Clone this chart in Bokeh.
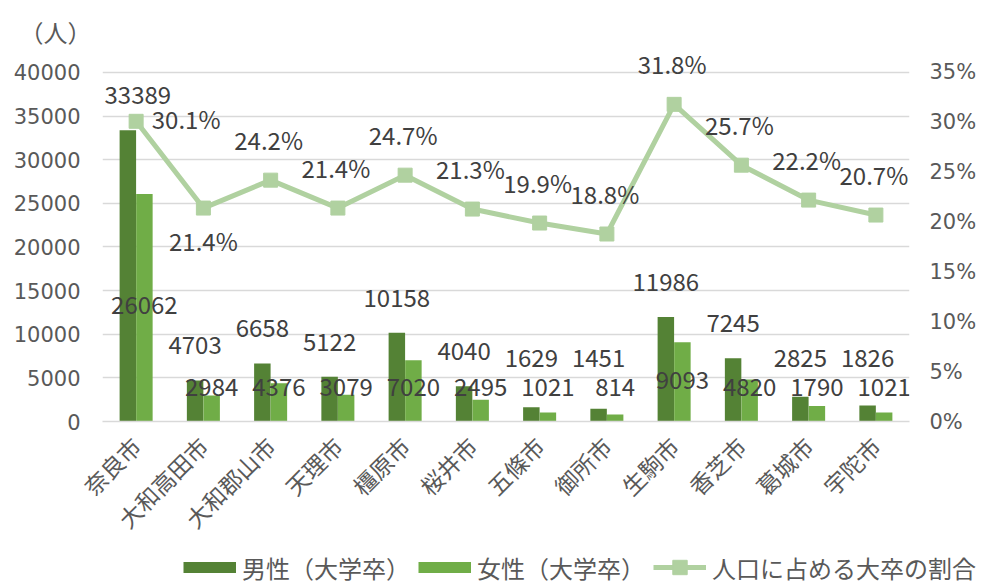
import math
from bokeh.plotting import figure
from bokeh.layouts import column, row
from bokeh.models import (Range1d, LinearAxis, FixedTicker, FactorRange,
                          ColumnDataSource, LabelSet, Legend, LegendItem, Title,
                          CustomJSTickFormatter)
from bokeh.transform import dodge
from bokeh.core.properties import value
from bokeh.embed import file_html
from bokeh.resources import INLINE

# ---- data ----
cities = ["奈良市", "大和高田市", "大和郡山市", "天理市", "橿原市", "桜井市",
          "五條市", "御所市", "生駒市", "香芝市", "葛城市", "宇陀市"]
male = [33389, 4703, 6658, 5122, 10158, 4040, 1629, 1451, 11986, 7245, 2825, 1826]
female = [26062, 2984, 4376, 3079, 7020, 2495, 1021, 814, 9093, 4820, 1790, 1021]
ratio = [30.1, 21.4, 24.2, 21.4, 24.7, 21.3, 19.9, 18.8, 31.8, 25.7, 22.2, 20.7]
left_ticks = [0, 5000, 10000, 15000, 20000, 25000, 30000, 35000, 40000]
right_ticks = [0, 5, 10, 15, 20, 25, 30, 35]
series_names = ["男性（大学卒）", "女性（大学卒）", "人口に占める大卒の割合"]

# ---- styles / layout ----
MALE_C = "#548235"
FEMALE_C = "#70AD47"
LINE_C = "#B0D1A0"
GRID_C = "#D9D9D9"
TICK_C = "#595959"
LABEL_C = "#404040"
JP = "Noto Sans CJK JP"
NUM = "DejaVu Sans"

W, LEG_H = 983, 36
H = 585 - LEG_H
FRAME_L, FRAME_R, FRAME_T, FRAME_B = 102, 909, 48, 422
AXIS_PX = 350  # pixels spanned by 0..40000 / 0..35%
head = (FRAME_B - FRAME_T) / AXIS_PX

# label placement (screen px)
male_floor = 3300
male_dx = [10] + [0] * 11
female_lift = [117, 35, 35, 35, 35, 35, 35, 35, 42, 35, 35, 35]
pct_dx = [50, 0] + [-2] * 10
pct_dy = [3, -32] + [41] * 10

src = ColumnDataSource(dict(
    city=cities, male=male, female=female, ratio=ratio,
    male_txt=[str(v) for v in male],
    female_txt=[str(v) for v in female],
    ratio_txt=[f"{v:.1f}%" for v in ratio],
    male_y=[max(v, male_floor) for v in male],
    male_dx=male_dx,
    zero=[0] * len(cities),
    female_lift=female_lift,
    pct_dx=pct_dx, pct_dy=pct_dy,
))

p = figure(width=W, height=H,
           x_range=FactorRange(factors=cities, range_padding=0),
           y_range=Range1d(0, left_ticks[-1] * head),
           output_backend="svg", toolbar_location=None,
           min_border_left=FRAME_L, min_border_right=W - FRAME_R,
           min_border_top=FRAME_T, min_border_bottom=H - FRAME_B)
p.extra_y_ranges = {"pct": Range1d(0, right_ticks[-1] * head)}
p.outline_line_color = None
p.background_fill_color = "white"
p.border_fill_color = "white"

p.vbar(x=dodge("city", -0.123, range=p.x_range), top="male", width=0.245,
       source=src, fill_color=MALE_C, line_color=None)
p.vbar(x=dodge("city", 0.123, range=p.x_range), top="female", width=0.245,
       source=src, fill_color=FEMALE_C, line_color=None)

p.line("city", "ratio", source=src, y_range_name="pct",
       line_color=LINE_C, line_width=5)
p.scatter("city", "ratio", source=src, y_range_name="pct", marker="square",
          size=14, fill_color=LINE_C, line_color=LINE_C)

# axes
lt = FixedTicker(ticks=left_ticks, minor_ticks=[])
p.yaxis.ticker = lt
p.ygrid.ticker = lt
p.ygrid.grid_line_color = GRID_C
p.ygrid.grid_line_width = 1.5
p.xgrid.visible = False

for ax in p.yaxis:
    ax.axis_line_color = None
    ax.major_tick_line_color = None
    ax.minor_tick_line_color = None
    ax.major_tick_out = 0
    ax.major_tick_in = 0
    ax.major_label_text_font = NUM
    ax.major_label_text_font_size = "21px"
    ax.major_label_text_color = TICK_C
    ax.major_label_standoff = 22

rax = LinearAxis(y_range_name="pct",
                 ticker=FixedTicker(ticks=right_ticks, minor_ticks=[]),
                 formatter=CustomJSTickFormatter(code="return tick + '%';"))
rax.axis_line_color = None
rax.major_tick_line_color = None
rax.minor_tick_line_color = None
rax.major_tick_out = 0
rax.major_tick_in = 0
rax.major_label_text_font = NUM
rax.major_label_text_font_size = "21px"
rax.major_label_text_color = TICK_C
rax.major_label_standoff = 20
p.add_layout(rax, "right")

xa = p.xaxis[0]
xa.axis_line_color = GRID_C
xa.axis_line_width = 1.5
xa.major_tick_line_color = None
xa.minor_tick_line_color = None
xa.major_tick_out = 0
xa.major_tick_in = 0
xa.major_label_orientation = math.pi / 4
xa.major_label_text_font = JP
xa.major_label_text_font_size = "23px"
xa.major_label_text_color = TICK_C
xa.major_label_standoff = 20

# data labels
common = dict(source=src, text_font=value(JP), text_font_size="24px",
              text_color=LABEL_C, text_align="center", text_baseline="middle")
p.add_layout(LabelSet(x=dodge("city", -0.123, range=p.x_range), y="male_y",
                      text="male_txt", x_offset="male_dx", y_offset=35, **common))
p.add_layout(LabelSet(x=dodge("city", 0.123, range=p.x_range), y="zero",
                      text="female_txt", y_offset="female_lift", **common))
p.add_layout(LabelSet(x="city", y="ratio", y_range_name="pct", text="ratio_txt",
                      x_offset="pct_dx", y_offset="pct_dy", **common))

# unit label
p.title = Title(text="（人）", align="left", offset=-83, standoff=0,
                text_font=JP, text_font_size="24px", text_color=TICK_C,
                text_font_style="normal")

# legend strip (separate small figure so nothing is clipped)
lf = figure(width=W, height=LEG_H, x_range=Range1d(0, 1), y_range=Range1d(0, 1),
            output_backend="svg", toolbar_location=None,
            x_axis_location=None, y_axis_location=None,
            min_border_left=0, min_border_right=0, min_border_top=0, min_border_bottom=0)
lf.outline_line_color = None
lf.xgrid.visible = False
lf.ygrid.visible = False
nan = [float("nan")]
m_leg = lf.line(x=nan, y=nan, line_color=MALE_C, line_width=11)
f_leg = lf.line(x=nan, y=nan, line_color=FEMALE_C, line_width=11)
l_leg = lf.line(x=nan, y=nan, line_color=LINE_C, line_width=5)
s_leg = lf.scatter(x=nan, y=nan, marker="square", fill_color=LINE_C, line_color=LINE_C)
legend = Legend(items=[
    LegendItem(label=series_names[0], renderers=[m_leg]),
    LegendItem(label=series_names[1], renderers=[f_leg]),
    LegendItem(label=series_names[2], renderers=[l_leg, s_leg]),
], location=(183, 0), orientation="horizontal", glyph_width=53, glyph_height=LEG_H,
    label_height=LEG_H, label_standoff=6, spacing=8, padding=0, margin=0,
    border_line_color=None, background_fill_alpha=0,
    label_text_font=JP, label_text_font_size="24px", label_text_color=TICK_C)
lf.add_layout(legend)

layout = column(p, row(lf), spacing=0)
open("out.html", "w").write(file_html(layout, INLINE))
